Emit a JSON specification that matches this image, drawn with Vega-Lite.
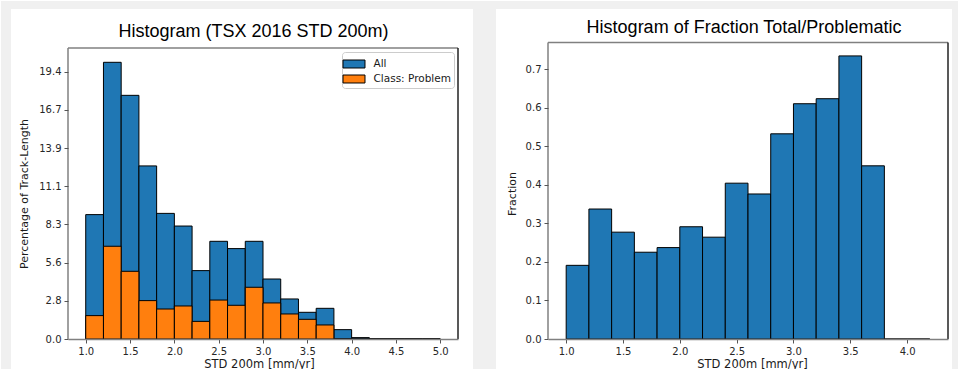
{
  "$schema": "https://vega.github.io/schema/vega-lite/v6.json",
  "background": "white",
  "padding": 0,
  "spacing": 0,
  "resolve": {"scale": {"color": "independent"}, "legend": {"color": "independent"}},
  "config": {
    "view": {"stroke": null},
    "axis": {
      "grid": false,
      "labelFont": "DejaVu Sans", "labelFontSize": 10, "labelColor": "#262626",
      "tickColor": "#555555", "tickSize": 4, "tickWidth": 1, "labelPadding": 3,
      "domainColor": "#808080", "domainWidth": 1.5,
      "titleFont": "DejaVu Sans", "titleFontSize": 11, "titleFontWeight": "normal", "titleColor": "#1a1a1a"
    }
  },
  "hconcat": [
    {
      "width": 390, "height": 291,
      "layer": [
        {
          "data": {"values": [{}]},
          "mark": {"type": "rect", "fill": "#f0f0f0", "stroke": null},
          "encoding": {
            "x": {"datum": 0.0441, "type": "quantitative", "scale": {"domain": [0.8, 5.2], "nice": false, "zero": false}},
            "x2": {"datum": 0.1569},
            "y": {"datum": 24.566, "type": "quantitative", "scale": {"domain": [0, 21.15], "nice": false}},
            "y2": {"datum": -2.6}
          }
        },
        {
          "data": {"values": [{}]},
          "mark": {"type": "rect", "fill": "#f0f0f0", "stroke": null},
          "encoding": {
            "x": {"datum": 0.0441, "type": "quantitative", "scale": {"domain": [0.8, 5.2], "nice": false, "zero": false}},
            "x2": {"datum": 5.6285},
            "y": {"datum": 24.566, "type": "quantitative", "scale": {"domain": [0, 21.15], "nice": false}},
            "y2": {"datum": 23.985}
          }
        },
        {
          "data": {"values": [{}]},
          "mark": {"type": "rect", "fill": "#f0f0f0", "stroke": null},
          "encoding": {
            "x": {"datum": 5.369, "type": "quantitative", "scale": {"domain": [0.8, 5.2], "nice": false, "zero": false}},
            "x2": {"datum": 5.6285},
            "y": {"datum": 24.566, "type": "quantitative", "scale": {"domain": [0, 21.15], "nice": false}},
            "y2": {"datum": -2.6}
          }
        },
        {
          "data": {"values": [
            {"lo": 1.0, "hi": 1.2, "series": "All", "pct": 9.04},
            {"lo": 1.2, "hi": 1.4, "series": "All", "pct": 20.11},
            {"lo": 1.4, "hi": 1.6, "series": "All", "pct": 17.71},
            {"lo": 1.6, "hi": 1.8, "series": "All", "pct": 12.58},
            {"lo": 1.8, "hi": 2.0, "series": "All", "pct": 9.13},
            {"lo": 2.0, "hi": 2.2, "series": "All", "pct": 8.21},
            {"lo": 2.2, "hi": 2.4, "series": "All", "pct": 4.97},
            {"lo": 2.4, "hi": 2.6, "series": "All", "pct": 7.10},
            {"lo": 2.6, "hi": 2.8, "series": "All", "pct": 6.57},
            {"lo": 2.8, "hi": 3.0, "series": "All", "pct": 7.10},
            {"lo": 3.0, "hi": 3.2, "series": "All", "pct": 4.36},
            {"lo": 3.2, "hi": 3.4, "series": "All", "pct": 2.91},
            {"lo": 3.4, "hi": 3.6, "series": "All", "pct": 1.94},
            {"lo": 3.6, "hi": 3.8, "series": "All", "pct": 2.23},
            {"lo": 3.8, "hi": 4.0, "series": "All", "pct": 0.68},
            {"lo": 4.0, "hi": 4.2, "series": "All", "pct": 0.10},
            {"lo": 4.2, "hi": 4.4, "series": "All", "pct": 0},
            {"lo": 4.4, "hi": 4.6, "series": "All", "pct": 0},
            {"lo": 4.6, "hi": 4.8, "series": "All", "pct": 0},
            {"lo": 4.8, "hi": 5.0, "series": "All", "pct": 0},
            {"lo": 1.0, "hi": 1.2, "series": "Class: Problem", "pct": 1.70},
            {"lo": 1.2, "hi": 1.4, "series": "Class: Problem", "pct": 6.74},
            {"lo": 1.4, "hi": 1.6, "series": "Class: Problem", "pct": 4.92},
            {"lo": 1.6, "hi": 1.8, "series": "Class: Problem", "pct": 2.79},
            {"lo": 1.8, "hi": 2.0, "series": "Class: Problem", "pct": 2.18},
            {"lo": 2.0, "hi": 2.2, "series": "Class: Problem", "pct": 2.40},
            {"lo": 2.2, "hi": 2.4, "series": "Class: Problem", "pct": 1.28},
            {"lo": 2.4, "hi": 2.6, "series": "Class: Problem", "pct": 2.83},
            {"lo": 2.6, "hi": 2.8, "series": "Class: Problem", "pct": 2.45},
            {"lo": 2.8, "hi": 3.0, "series": "Class: Problem", "pct": 3.76},
            {"lo": 3.0, "hi": 3.2, "series": "Class: Problem", "pct": 2.62},
            {"lo": 3.2, "hi": 3.4, "series": "Class: Problem", "pct": 1.82},
            {"lo": 3.4, "hi": 3.6, "series": "Class: Problem", "pct": 1.43},
            {"lo": 3.6, "hi": 3.8, "series": "Class: Problem", "pct": 1.02},
            {"lo": 3.8, "hi": 4.0, "series": "Class: Problem", "pct": 0},
            {"lo": 4.0, "hi": 4.2, "series": "Class: Problem", "pct": 0},
            {"lo": 4.2, "hi": 4.4, "series": "Class: Problem", "pct": 0},
            {"lo": 4.4, "hi": 4.6, "series": "Class: Problem", "pct": 0},
            {"lo": 4.6, "hi": 4.8, "series": "Class: Problem", "pct": 0},
            {"lo": 4.8, "hi": 5.0, "series": "Class: Problem", "pct": 0}
          ]},
          "mark": {"type": "rect", "stroke": "black", "strokeWidth": 1, "opacity": 1},
          "encoding": {
            "x": {"field": "lo", "type": "quantitative", "scale": {"domain": [0.8, 5.2], "nice": false, "zero": false},
                  "axis": {"title": "STD 200m [mm/yr]", "values": [1.0, 1.5, 2.0, 2.5, 3.0, 3.5, 4.0, 4.5, 5.0], "format": ".1f", "labelFlush": false, "labelOverlap": false, "titleFontSize": 11.5, "titlePadding": 2, "titleX": 191, "zindex": 1}},
            "x2": {"field": "hi"},
            "y": {"field": "pct", "type": "quantitative", "stack": null, "scale": {"domain": [0, 21.15], "nice": false},
                  "axis": {"title": "Percentage of Track-Length", "values": [0, 2.776, 5.552, 8.328, 11.104, 13.88, 16.656, 19.432], "format": ".1f", "domain": false, "labelOverlap": false, "titlePadding": 9, "zindex": 1}},
            "y2": {"datum": 0},
            "color": {"field": "series", "type": "nominal",
                      "scale": {"domain": ["All", "Class: Problem"], "range": ["#1f77b4", "#ff7f0e"]},
                      "legend": {"title": null, "orient": "top-right", "offset": 4, "padding": 3, "symbolType": "M-1.294,-0.47H1.294V0.47H-1.294Z", "symbolSize": 289, "symbolStrokeColor": "black", "symbolStrokeWidth": 1, "symbolOpacity": 1, "labelFont": "DejaVu Sans", "labelFontSize": 10.5, "labelColor": "#1a1a1a", "labelOffset": 10.5, "rowPadding": 0, "strokeColor": "#cccccc", "fillColor": "white", "cornerRadius": 3, "zindex": 1}}
          }
        },
        {
          "data": {"values": [{}]},
          "mark": {"type": "rule", "color": "#808080", "strokeWidth": 1.5},
          "encoding": {
            "x": {"datum": 0.8, "type": "quantitative", "scale": {"domain": [0.8, 5.2], "nice": false, "zero": false}},
            "y": {"datum": 0, "type": "quantitative", "scale": {"domain": [0, 21.15], "nice": false}},
            "y2": {"datum": 21.15}
          }
        },
        {
          "data": {"values": [{}]},
          "mark": {"type": "rule", "color": "#808080", "strokeWidth": 1.5},
          "encoding": {
            "x": {"datum": 0.8, "type": "quantitative", "scale": {"domain": [0.8, 5.2], "nice": false, "zero": false}},
            "x2": {"datum": 5.2},
            "y": {"datum": 21.15, "type": "quantitative", "scale": {"domain": [0, 21.15], "nice": false}}
          }
        },
        {
          "data": {"values": [{}]},
          "mark": {"type": "rule", "color": "#222222", "strokeWidth": 1.5},
          "encoding": {
            "x": {"datum": 5.2, "type": "quantitative", "scale": {"domain": [0.8, 5.2], "nice": false, "zero": false}},
            "y": {"datum": 0, "type": "quantitative", "scale": {"domain": [0, 21.15], "nice": false}},
            "y2": {"datum": 21.15}
          }
        },
        {
          "data": {"values": [{"label": "Histogram (TSX 2016 STD 200m)"}]},
          "mark": {"type": "text", "font": "Liberation Sans", "fontSize": 18, "color": "#000000", "align": "center", "baseline": "alphabetic"},
          "encoding": {
            "x": {"datum": 2.8928, "type": "quantitative", "scale": {"domain": [0.8, 5.2], "nice": false, "zero": false}},
            "y": {"datum": 21.95, "type": "quantitative", "scale": {"domain": [0, 21.15], "nice": false}},
            "text": {"field": "label"}
          }
        }
      ]
    },
    {
      "width": 400, "height": 291,
      "layer": [
        {
          "data": {"values": [{}]},
          "mark": {"type": "rect", "fill": "#f0f0f0", "stroke": null},
          "encoding": {
            "x": {"datum": 0.3824, "type": "quantitative", "scale": {"domain": [0.84, 4.36], "nice": false, "zero": false}},
            "x2": {"datum": 4.4567},
            "y": {"datum": 0.8764, "type": "quantitative", "scale": {"domain": [0, 0.7545], "nice": false}},
            "y2": {"datum": 0.8556}
          }
        },
        {
          "data": {"values": [{}]},
          "mark": {"type": "rect", "fill": "#f0f0f0", "stroke": null},
          "encoding": {
            "x": {"datum": 4.3951, "type": "quantitative", "scale": {"domain": [0.84, 4.36], "nice": false, "zero": false}},
            "x2": {"datum": 4.4567},
            "y": {"datum": 0.8764, "type": "quantitative", "scale": {"domain": [0, 0.7545], "nice": false}},
            "y2": {"datum": -0.09}
          }
        },
        {
          "data": {"values": [
            {"lo": 1.0, "hi": 1.2, "fraction": 0.191},
            {"lo": 1.2, "hi": 1.4, "fraction": 0.337},
            {"lo": 1.4, "hi": 1.6, "fraction": 0.277},
            {"lo": 1.6, "hi": 1.8, "fraction": 0.225},
            {"lo": 1.8, "hi": 2.0, "fraction": 0.237},
            {"lo": 2.0, "hi": 2.2, "fraction": 0.291},
            {"lo": 2.2, "hi": 2.4, "fraction": 0.264},
            {"lo": 2.4, "hi": 2.6, "fraction": 0.404},
            {"lo": 2.6, "hi": 2.8, "fraction": 0.376},
            {"lo": 2.8, "hi": 3.0, "fraction": 0.532},
            {"lo": 3.0, "hi": 3.2, "fraction": 0.610},
            {"lo": 3.2, "hi": 3.4, "fraction": 0.623},
            {"lo": 3.4, "hi": 3.6, "fraction": 0.734},
            {"lo": 3.6, "hi": 3.8, "fraction": 0.449},
            {"lo": 3.8, "hi": 4.0, "fraction": 0},
            {"lo": 4.0, "hi": 4.2, "fraction": 0}
          ]},
          "mark": {"type": "rect", "fill": "#1f77b4", "stroke": "black", "strokeWidth": 1, "opacity": 1},
          "encoding": {
            "x": {"field": "lo", "type": "quantitative", "scale": {"domain": [0.84, 4.36], "nice": false, "zero": false},
                  "axis": {"title": "STD 200m [mm/yr]", "values": [1.0, 1.5, 2.0, 2.5, 3.0, 3.5, 4.0], "format": ".1f", "labelFlush": false, "labelOverlap": false, "titleFontSize": 11.5, "titlePadding": 2, "titleX": 204, "zindex": 1}},
            "x2": {"field": "hi"},
            "y": {"field": "fraction", "type": "quantitative", "scale": {"domain": [0, 0.7545], "nice": false},
                  "axis": {"title": "Fraction", "values": [0, 0.1, 0.2, 0.3, 0.4, 0.5, 0.6, 0.7], "format": ".1f", "domain": false, "labelOverlap": false, "titlePadding": 8, "zindex": 1}},
            "y2": {"datum": 0}
          }
        },
        {
          "data": {"values": [{}]},
          "mark": {"type": "rule", "color": "#808080", "strokeWidth": 1.5},
          "encoding": {
            "x": {"datum": 0.84, "type": "quantitative", "scale": {"domain": [0.84, 4.36], "nice": false, "zero": false}},
            "y": {"datum": 0, "type": "quantitative", "scale": {"domain": [0, 0.7545], "nice": false}},
            "y2": {"datum": 0.769}
          }
        },
        {
          "data": {"values": [{}]},
          "mark": {"type": "rule", "color": "#808080", "strokeWidth": 1.5},
          "encoding": {
            "x": {"datum": 0.84, "type": "quantitative", "scale": {"domain": [0.84, 4.36], "nice": false, "zero": false}},
            "x2": {"datum": 4.36},
            "y": {"datum": 0.769, "type": "quantitative", "scale": {"domain": [0, 0.7545], "nice": false}}
          }
        },
        {
          "data": {"values": [{}]},
          "mark": {"type": "rule", "color": "#222222", "strokeWidth": 1.5},
          "encoding": {
            "x": {"datum": 4.36, "type": "quantitative", "scale": {"domain": [0.84, 4.36], "nice": false, "zero": false}},
            "y": {"datum": 0, "type": "quantitative", "scale": {"domain": [0, 0.7545], "nice": false}},
            "y2": {"datum": 0.769}
          }
        },
        {
          "data": {"values": [{"label": "Histogram of Fraction Total/Problematic"}]},
          "mark": {"type": "text", "font": "Liberation Sans", "fontSize": 18, "color": "#000000", "align": "center", "baseline": "alphabetic"},
          "encoding": {
            "x": {"datum": 2.5648, "type": "quantitative", "scale": {"domain": [0.84, 4.36], "nice": false, "zero": false}},
            "y": {"datum": 0.7934, "type": "quantitative", "scale": {"domain": [0, 0.7545], "nice": false}},
            "text": {"field": "label"}
          }
        }
      ]
    }
  ]
}
